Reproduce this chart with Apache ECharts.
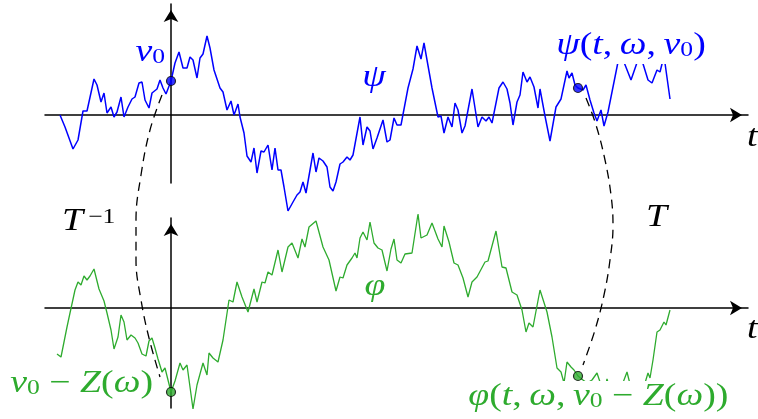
<!DOCTYPE html>
<html>
<head>
<meta charset="utf-8">
<script src="https://cdn.jsdelivr.net/npm/echarts@6/dist/echarts.min.js"></script>
<style>
  html, body { margin: 0; padding: 0; background: #fff; }
  #chart { width: 758px; height: 419px; }
</style>
</head>
<body>
<div id="chart"></div>
<script>
// Sample path psi (upper panel): time t and value
const psiT = [-111,-106,-98,-93,-88,-86,-84,-77,-74,-70,-67,-64,-60,-57,-54,-50,-47,-43,-39,-36,-32,-29,-26,-22,-19,-17,-14,-11,-8,-5,
  0,4,8,12,16,19,22,26,29,32,36,39,43,49,52,56,60,63,67,69,73,76,80,83,86,90,93,97,101,104,107,110,113,117,122,126,129,132,135,
  142,145,148,152,156,159,162,165,169,172,176,179,182,189,192,196,199,202,206,212,216,219,223,226,230,237,242,246,250,253,256,261,
  267,270,273,277,281,284,287,291,294,301,307,311,315,318,321,325,328,332,336,339,342,346,349,352,356,359,363,367,369,374,379,385,
  390,396,398,401,404,407,412,415,419,423,426,430,433,437,444,449,460,469,477,481,486,489,493,499];
const psiV = [0,-12,-34,-25,4,5,4,36,30,13,22,2,8,-2,3,18,-2,8,16,18,32,33,15,7,22,20,26,35,27,21,
  34,52,63,47,47,58,55,37,57,61,79,67,45,27,23,5,14,0,11,-2,-18,-41,-47,-33,-58,-36,-37,-30,-55,-33,-55,-55,-72,-96,-87,-80,-77,-67,-78,
  -38,-57,-43,-46,-52,-72,-76,-67,-49,-47,-42,-45,-40,-2,-30,-12,-16,-34,-23,-5,-27,-25,-3,-10,-10,27,46,69,56,72,55,27,
  -2,-1,-18,-2,-12,12,5,-18,-11,26,-12,-2,-6,-2,-8,12,27,33,26,12,-10,13,20,43,33,38,28,7,26,-1,-26,8,
  16,44,37,42,30,27,25,30,15,2,-6,5,-11,3,38,63,35,61,35,32,45,43,59,16];

// Sample path phi (lower panel): time t and value
const phiT = [-114,-110,-104,-101,-96,-93,-90,-87,-84,-81,-77,-72,-67,-64,-60,-57,-53,-50,-47,-44,-40,-36,-33,-29,-25,-22,-19,-16,-13,-9,-6,
  0,4,9,12,16,22,26,32,36,38,42,47,52,58,62,66,71,77,83,86,91,94,97,101,107,111,117,121,127,131,134,138,145,152,158,165,169,172,
  176,181,184,186,189,192,196,199,203,207,211,216,220,223,226,230,234,241,247,250,256,261,263,267,271,273,278,283,287,292,297,301,
  306,308,314,317,325,331,335,341,346,351,355,358,362,369,376,381,386,390,393,396,400,403,407,412,416,421,426,429,433,436,440,447,
  456,461,469,474,477,479,482,486,489,491,493,495,499];
const phiV = [-46,-49,-19,-5,18,26,23,32,28,32,39,19,7,-5,-22,-41,-29,-7,-14,-32,-27,-30,-35,-46,-48,-33,-30,-40,-51,-64,-60,
  -84,-73,-55,-62,-57,-101,-77,-55,-67,-45,-50,-54,-32,8,6,26,11,-4,19,6,26,25,36,33,58,36,61,65,50,69,61,81,87,61,48,17,31,30,
  43,50,55,50,70,76,68,86,65,60,58,37,59,69,48,45,54,55,94,70,73,85,84,69,61,82,66,45,43,30,11,26,
  31,29,46,47,77,41,40,16,13,-2,-24,-15,-19,18,-4,-29,-60,-64,-75,-54,-59,-62,-68,-72,-75,-72,-65,-74,-85,-71,-85,-88,
  -64,-84,-88,-75,-65,-70,-52,-24,-22,-18,-14,-17,-2];

// Marked states at t = 0 and at the later time t
const markT = [0, 407];
const psiMarks = [34, 27];
const phiMarks = [-84, -68];

// Dashed connectors between the panels, in upper-panel units
const invArcT = [-9,-21,-30,-35,-35,-30,-22,-11];
const invArcV = [20,-15,-60,-105,-145,-185,-223,-262];
const fwdArcT = [415,425,434,440,442,439,433,424,412];
const fwdArcV = [17,-10,-45,-80,-110,-145,-180,-215,-250];

const BLUE = '#0000ff';
const GREEN = '#2eab2e';
const SERIF = 'Liberation Serif';

const zip = (a, b) => a.map((v, i) => [v, b[i]]);

const axisLine = {
  show: true,
  onZero: true,
  symbol: ['none', 'arrow'],
  symbolSize: [11, 12],
  symbolOffset: [0, -6],
  lineStyle: { color: '#000', width: 1.5 }
};
const bare = {
  type: 'value',
  axisLine: axisLine,
  axisTick: { show: false },
  axisLabel: { show: false },
  splitLine: { show: false }
};

// math-style text: italic letters, upright digits and symbols, sub/superscripts
const rich = (color) => ({
  i: { fontFamily: SERIF, fontStyle: 'italic', fontSize: 31, lineHeight: 30, fill: color },
  r: { fontFamily: SERIF, fontSize: 31, lineHeight: 30, fill: color },
  s: { fontFamily: SERIF, fontSize: 21, lineHeight: 14, verticalAlign: 'bottom', fill: color },
  u: { fontFamily: SERIF, fontSize: 21, lineHeight: 16, verticalAlign: 'top', fill: color }
});

function label(text, x, y, color, align, extra) {
  return {
    type: 'text',
    z: 100,
    x: x,
    y: y,
    scaleX: 1.22,
    style: Object.assign({
      text: text,
      x: 0,
      y: 0,
      align: align || 'left',
      verticalAlign: 'top',
      rich: rich(color)
    }, extra || {})
  };
}

const chart = echarts.init(document.getElementById('chart'), null, { renderer: 'canvas' });

chart.setOption({
  animation: false,
  backgroundColor: '#fff',
  grid: [
    { left: 45, right: 10, top: 4, height: 179 },
    { left: 45, right: 10, top: 218, height: 190 }
  ],
  xAxis: [
    Object.assign({ gridIndex: 0, min: -126, max: 577 }, bare),
    Object.assign({ gridIndex: 1, min: -126, max: 577 }, bare)
  ],
  yAxis: [
    Object.assign({ gridIndex: 0, min: -68, max: 111 }, bare),
    Object.assign({ gridIndex: 1, min: -100, max: 90 }, bare)
  ],
  series: [
    {
      type: 'line', xAxisIndex: 0, yAxisIndex: 0, data: zip(psiT, psiV),
      symbol: 'none', clip: false, z: 3,
      lineStyle: { color: BLUE, width: 1.5 }
    },
    {
      type: 'line', xAxisIndex: 1, yAxisIndex: 1, data: zip(phiT, phiV),
      symbol: 'none', clip: false, z: 3,
      lineStyle: { color: GREEN, width: 1.3 }
    },
    {
      type: 'line', xAxisIndex: 0, yAxisIndex: 0, data: zip(invArcT, invArcV),
      symbol: 'none', clip: false, smooth: 0.4, z: 4,
      lineStyle: { color: '#000', width: 1.3, type: [9, 6] }
    },
    {
      type: 'line', xAxisIndex: 0, yAxisIndex: 0, data: zip(fwdArcT, fwdArcV),
      symbol: 'none', clip: false, smooth: 0.4, z: 4,
      lineStyle: { color: '#000', width: 1.3, type: [9, 6] }
    },
    {
      type: 'scatter', xAxisIndex: 0, yAxisIndex: 0, data: zip(markT, psiMarks),
      symbol: 'circle', symbolSize: 9, clip: false, z: 5,
      itemStyle: { color: BLUE, borderColor: '#000', borderWidth: 1.2 }
    },
    {
      type: 'scatter', xAxisIndex: 1, yAxisIndex: 1, data: zip(markT, phiMarks),
      symbol: 'circle', symbolSize: 9, clip: false, z: 5,
      itemStyle: { color: GREEN, borderColor: '#000', borderWidth: 1.2 }
    }
  ],
  graphic: [
    label('{i|v}{s|0}', 165, 38, BLUE, 'right'),
    label('{i|ψ}', 374, 63, BLUE, 'center'),
    label('{i|ψ}{r|(}{i|t}{r|,\u2009}{i|ω}{r|,\u2009}{i|v}{s|0}{r|)}', 555, 31, BLUE, 'left',
      { backgroundColor: '#fff', padding: [0, 1, 3, 1] }),
    label('{i|t}', 747, 123, '#000'),
    label('{i|t}', 747, 315, '#000'),
    label('{i|T}{u|\u2009−1}', 62, 207, '#000'),
    label('{i|T}', 646, 203, '#000'),
    label('{i|φ}', 375, 272, GREEN, 'center'),
    label('{i|v}{s|0}{r| − }{i|Z}{r|(}{i|ω}{r|)}', 9, 369, GREEN, 'left',
      { backgroundColor: '#fff', padding: [0, 1, 0, 1] }),
    label('{i|φ}{r|(}{i|t}{r|,\u2009}{i|ω}{r|,\u2009}{i|v}{s|0}{r| − }{i|Z}{r|(}{i|ω}{r|))}', 467, 381, GREEN, 'left',
      { backgroundColor: '#fff', padding: [1, 1, 4, 1] })
  ]
});
</script>
</body>
</html>
